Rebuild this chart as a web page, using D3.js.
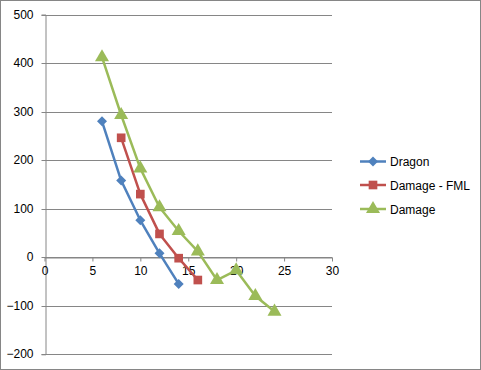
<!DOCTYPE html>
<html><head><meta charset="utf-8">
<script src="https://cdn.jsdelivr.net/npm/d3@7"></script>
<style>body{margin:0;background:#fff}svg{display:block}</style>
</head><body><svg id="c" width="481" height="370"></svg>
<script>
const dragonX = [6, 8, 10, 12, 14];
const dragonY = [280, 158, 76, 8, -55];
const fmlX = [8, 10, 12, 14, 16];
const fmlY = [246, 130, 48, -2, -47];
const damageX = [6, 8, 10, 12, 14, 16, 18, 20, 22, 24];
const damageY = [412, 293, 183, 103, 54, 12, -47, -27, -80, -112];
const seriesNames = ["Dragon", "Damage - FML", "Damage"];
const xTicks = [0, 5, 10, 15, 20, 25, 30];
const yTicks = [-200, -100, 0, 100, 200, 300, 400, 500];

const colors = ["#4F81BD", "#C0504D", "#9BBB59"];
const diamond = { draw(ctx, size) { const r = Math.sqrt(size / 2); ctx.moveTo(0, -r); ctx.lineTo(r, 0); ctx.lineTo(0, r); ctx.lineTo(-r, 0); ctx.closePath(); } };
const symbols = [diamond, d3.symbolSquare, d3.symbolTriangle];
const symSizes = [50, 75, 85];
const font = "'Liberation Sans', Arial, sans-serif";

const svg = d3.select("#c");
svg.append("rect").attr("x", 0.5).attr("y", 0.5).attr("width", 480).attr("height", 369)
  .attr("fill", "#fff").attr("stroke", "#868686");

const x = d3.scaleLinear().domain([0, 30]).range([44.5, 332]);
const y = d3.scaleLinear().domain([-200, 500]).range([354.3, 14.5]);

// gridlines
svg.append("g").selectAll("line").data(yTicks).join("line")
  .attr("x1", x(0)).attr("x2", x(30))
  .attr("y1", d => Math.round(y(d)) + 0.5).attr("y2", d => Math.round(y(d)) + 0.5)
  .attr("stroke", "#868686").attr("stroke-width", 1);

// y axis
const ya = svg.append("g").attr("transform", `translate(${Math.round(x(0)) + 0.5},0)`)
  .call(d3.axisLeft(y).tickValues(yTicks).tickSize(4).tickPadding(8).tickFormat(d3.format("d")));
ya.select(".domain").attr("stroke", "#868686");
ya.selectAll(".tick line").attr("stroke", "#868686");
ya.selectAll("text").attr("font-family", font).attr("font-size", 12).attr("fill", "#000");
ya.selectAll(".tick").attr("transform", d => `translate(0,${Math.round(y(d)) + 0.5})`);

// x axis at y=0
const xa = svg.append("g").attr("transform", `translate(0,${Math.round(y(0)) + 0.5})`)
  .call(d3.axisBottom(x).tickValues(xTicks).tickSize(4).tickPadding(5).tickSizeOuter(0));
xa.select(".domain").attr("stroke", "#868686");
xa.selectAll(".tick line").attr("stroke", "#868686");
xa.selectAll("text").attr("font-family", font).attr("font-size", 12).attr("fill", "#000");

const data = [
  dragonX.map((v, i) => [v, dragonY[i]]),
  fmlX.map((v, i) => [v, fmlY[i]]),
  damageX.map((v, i) => [v, damageY[i]])
];
const line = d3.line().x(d => x(d[0])).y(d => y(d[1]));

data.forEach((s, k) => {
  const g = svg.append("g");
  g.append("path").attr("d", line(s)).attr("fill", "none")
    .attr("stroke", colors[k]).attr("stroke-width", 2.5).attr("stroke-linejoin", "round");
  g.selectAll("path.m").data(s).join("path").attr("class", "m")
    .attr("transform", d => `translate(${x(d[0])},${y(d[1])})`)
    .attr("d", d3.symbol().type(symbols[k]).size(symSizes[k]))
    .attr("fill", colors[k]);
});

// legend
const legY = [161.5, 185, 209];
seriesNames.forEach((n, k) => {
  const g = svg.append("g").attr("transform", `translate(373,${legY[k]})`);
  g.append("line").attr("x1", -13).attr("x2", 13).attr("stroke", colors[k]).attr("stroke-width", 2.5);
  g.append("path").attr("d", d3.symbol().type(symbols[k]).size(symSizes[k])).attr("fill", colors[k]);
  g.append("text").attr("x", 17).attr("y", 4.5).text(n)
    .attr("font-family", font).attr("font-size", 12).attr("fill", "#000");
});
</script></body></html>
